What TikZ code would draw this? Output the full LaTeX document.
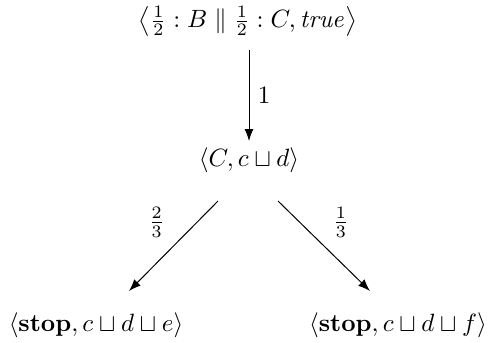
\documentclass[tikz,border=0pt]{standalone}
\usepackage{amsmath,amssymb}
\usetikzlibrary{arrows.meta,positioning}

\begin{document}
\begin{tikzpicture}[
    x=0.4pt,y=-0.4pt,
    >=Latex,
    arr/.style={->},
    prob/.style={font=\normalsize}
  ]
  \useasboundingbox (0,0) rectangle (488,342);
  %% Configurations
  \node[inner sep=0.5pt] (init) at (248,21) {$\left\langle \frac{1}{2} : B \parallel \frac{1}{2} : C, \mathit{true} \right\rangle$};
  \node (mid)   at (249,160) {$\langle C, c \sqcup d \rangle$};
  \node (stopE) at (96,325)  {$\langle \mathbf{stop}, c \sqcup d \sqcup e \rangle$};
  \node (stopF) at (398,325) {$\langle \mathbf{stop}, c \sqcup d \sqcup f \rangle$};
  %% Probabilistic transitions
  \draw[arr] ([shift={(1,29)}]init.center) -- node[prob,right] {$1$} ([shift={(0,-19)}]mid.center);
  \draw[arr] ([shift={(-31,41)}]mid.center) -- node[prob,above left] {$\frac{2}{3}$} ([shift={(33,-34)}]stopE.center);
  \draw[arr] ([shift={(29,41)}]mid.center) -- node[prob,above right] {$\frac{1}{3}$} ([shift={(-28,-34)}]stopF.center);
\end{tikzpicture}
\end{document}
